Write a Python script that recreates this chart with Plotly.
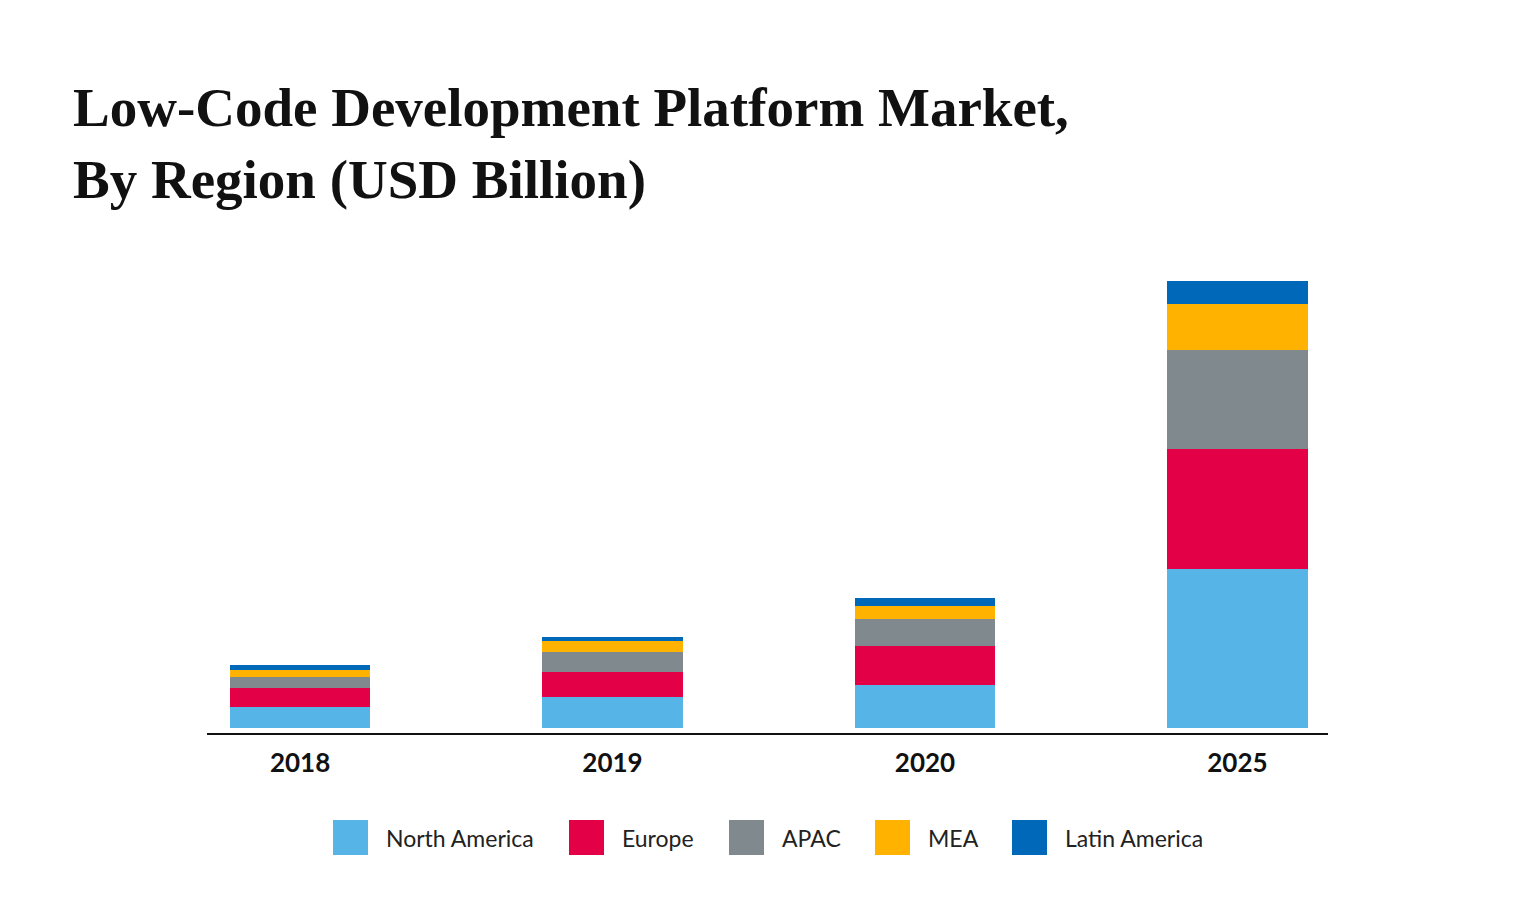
import plotly.graph_objects as go

years = ["2018", "2019", "2020", "2025"]
regions = ["North America", "Europe", "APAC", "MEA", "Latin America"]
north_america = [2.1, 3.1, 4.3, 15.9]
europe = [1.9, 2.5, 3.9, 12.0]
apac = [1.1, 2.0, 2.7, 9.9]
mea = [0.7, 1.1, 1.3, 4.6]
latin_america = [0.5, 0.4, 0.8, 2.3]
series = [north_america, europe, apac, mea, latin_america]
colors = ["#56B4E6", "#E30047", "#7F898E", "#FFB300", "#0068B8"]

OFF = 8  # default page body margin
W, H = 1520, 890
# page-pixel positions of the plot area
PL, PR, PT, PB = 207, 1328, 270, 733
L, T = PL - OFF, PT - OFF
R = (OFF + W) - PR
B = (OFF + H) - PB
PW, PH = PR - PL, PB - PT


def px(xp):
    return (xp - PL) / PW


def py(yp):
    return (PB - yp) / PH


fig = go.Figure()
for name, vals, col in zip(regions, series, colors):
    fig.add_trace(go.Bar(x=years, y=vals, name=name, marker=dict(color=col, line=dict(width=0)),
                         showlegend=False))

fig.update_layout(
    barmode="stack", bargap=0.55,
    width=W, height=H,
    margin=dict(l=L, r=R, t=T, b=B, pad=0),
    paper_bgcolor="white", plot_bgcolor="white",
    title=dict(text="<b>Low-Code Development Platform Market,<br>By Region (USD Billion)</b>",
               font=dict(family="Liberation Serif", size=55, color="#111111"),
               x=(73 - OFF) / W, xanchor="left", xref="container",
               y=1 - (126 - OFF) / H, yanchor="top", yref="container"),
    xaxis=dict(type="category", range=[-0.298, 3.29], showline=True, linecolor="#111111",
               linewidth=2, showgrid=False, ticks="", ticklabelstandoff=6,
               tickfont=dict(family="Lato", size=26, color="#111111", weight="bold")),
    yaxis=dict(range=[-0.5, 45.8], visible=False, showgrid=False, zeroline=False),
)

# custom legend
leg_sq_x = [333, 569, 729, 875, 1012]
for name, col, sx in zip(regions, colors, leg_sq_x):
    fig.add_shape(type="rect", xref="paper", yref="paper",
                  x0=px(sx), x1=px(sx + 35), y0=py(855), y1=py(820),
                  fillcolor=col, line=dict(width=0))
    fig.add_annotation(text=name, xref="paper", yref="paper",
                       x=px(sx + 51), y=py(838),
                       xanchor="left", yanchor="middle", showarrow=False,
                       font=dict(family="Lato", size=23, color="#222222"))

fig.write_html("out.html")
